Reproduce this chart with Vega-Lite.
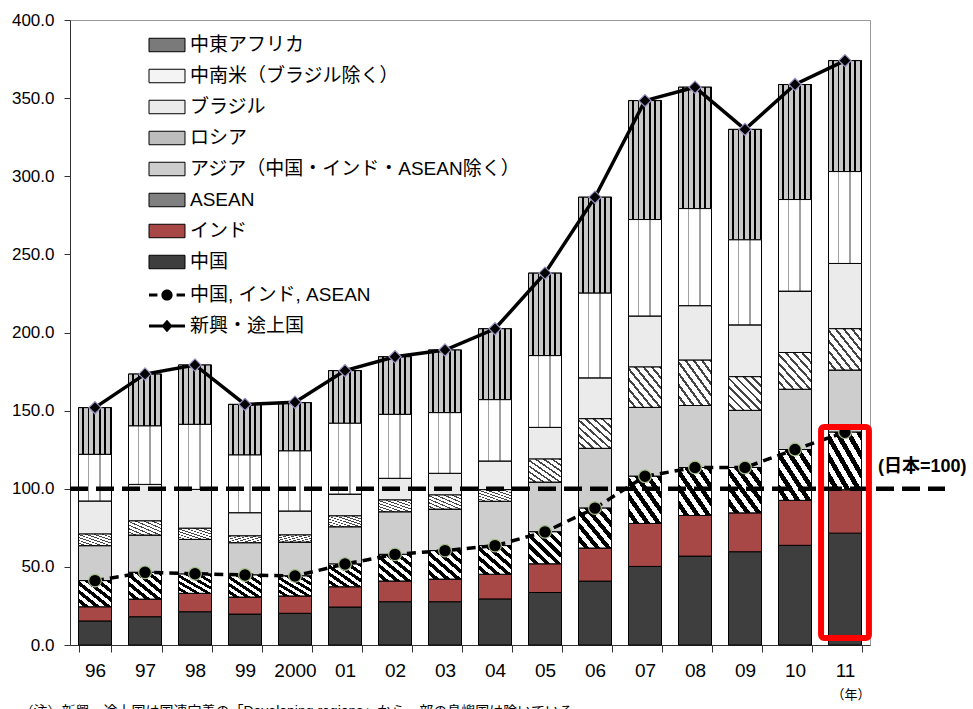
{
  "$schema": "https://vega.github.io/schema/vega-lite/v6.json",
  "width": 800,
  "height": 625,
  "autosize": "none",
  "padding": {"left": 70, "top": 20, "right": 103, "bottom": 64},
  "background": "white",
  "config": {
    "font": "Liberation Sans, Noto Sans CJK JP",
    "view": {"stroke": "#999999", "strokeWidth": 1},
    "axis": {"labelColor": "black", "labelFont": "Liberation Sans, Noto Sans CJK JP"},
    "legend": {"labelFont": "Liberation Sans, Noto Sans CJK JP", "labelColor": "black"}
  },
  "title": {
    "text": "（注）新興・途上国は国連定義の「Developing regions」から一部の島嶼国は除いている。",
    "orient": "bottom", "anchor": "start", "fontSize": 14, "fontWeight": "normal",
    "font": "Liberation Sans, Noto Sans CJK JP", "offset": 4, "dx": 8, "color": "black"
  },
  "data": {
    "values": [
      {"year": "96", "中国": 15.4, "インド": 9.1, "ASEAN": 16.7, "アジア（中国・インド・ASEAN除く）": 22.4, "ロシア": 7.4, "ブラジル": 21.2, "中南米（ブラジル除く）": 29.8, "中東アフリカ": 29.9, "中国, インド, ASEAN": 41.2, "新興・途上国": 151.9},
      {"year": "97", "中国": 18.1, "インド": 11.3, "ASEAN": 17.1, "アジア（中国・インド・ASEAN除く）": 23.9, "ロシア": 9.0, "ブラジル": 23.4, "中南米（ブラジル除く）": 37.4, "中東アフリカ": 33.2, "中国, インド, ASEAN": 46.5, "新興・途上国": 173.4},
      {"year": "98", "中国": 21.3, "インド": 11.8, "ASEAN": 12.3, "アジア（中国・インド・ASEAN除く）": 22.2, "ロシア": 7.1, "ブラジル": 24.9, "中南米（ブラジル除く）": 41.6, "中東アフリカ": 38.0, "中国, インド, ASEAN": 45.6, "新興・途上国": 179.2},
      {"year": "99", "中国": 19.8, "インド": 10.9, "ASEAN": 14.1, "アジア（中国・インド・ASEAN除く）": 20.7, "ロシア": 4.3, "ブラジル": 14.9, "中南米（ブラジル除く）": 36.9, "中東アフリカ": 32.4, "中国, インド, ASEAN": 44.8, "新興・途上国": 154.0},
      {"year": "2000", "中国": 20.3, "インド": 11.1, "ASEAN": 12.8, "アジア（中国・インド・ASEAN除く）": 21.7, "ロシア": 4.5, "ブラジル": 15.4, "中南米（ブラジル除く）": 38.4, "中東アフリカ": 30.9, "中国, インド, ASEAN": 44.2, "新興・途上国": 155.4},
      {"year": "01", "中国": 24.3, "インド": 13.0, "ASEAN": 14.5, "アジア（中国・インド・ASEAN除く）": 23.9, "ロシア": 6.9, "ブラジル": 14.0, "中南米（ブラジル除く）": 45.3, "中東アフリカ": 33.7, "中国, インド, ASEAN": 51.8, "新興・途上国": 175.6},
      {"year": "02", "中国": 27.7, "インド": 13.3, "ASEAN": 17.0, "アジア（中国・インド・ASEAN除く）": 27.3, "ロシア": 7.5, "ブラジル": 13.9, "中南米（ブラジル除く）": 40.9, "中東アフリカ": 36.9, "中国, インド, ASEAN": 58.0, "新興・途上国": 184.5},
      {"year": "03", "中国": 27.7, "インド": 14.5, "ASEAN": 18.2, "アジア（中国・インド・ASEAN除く）": 26.6, "ロシア": 9.0, "ブラジル": 13.9, "中南米（ブラジル除く）": 38.8, "中東アフリカ": 40.1, "中国, インド, ASEAN": 60.4, "新興・途上国": 188.8},
      {"year": "04", "中国": 29.5, "インド": 15.8, "ASEAN": 18.3, "アジア（中国・インド・ASEAN除く）": 28.4, "ロシア": 7.4, "ブラジル": 18.4, "中南米（ブラジル除く）": 39.2, "中東アフリカ": 45.4, "中国, インド, ASEAN": 63.6, "新興・途上国": 202.4},
      {"year": "05", "中国": 33.6, "インド": 18.4, "ASEAN": 20.4, "アジア（中国・インド・ASEAN除く）": 31.9, "ロシア": 14.7, "ブラジル": 20.3, "中南米（ブラジル除く）": 45.9, "中東アフリカ": 52.8, "中国, インド, ASEAN": 72.4, "新興・途上国": 238.0},
      {"year": "06", "中国": 40.9, "インド": 21.2, "ASEAN": 25.5, "アジア（中国・インド・ASEAN除く）": 38.3, "ロシア": 18.9, "ブラジル": 26.2, "中南米（ブラジル除く）": 54.2, "中東アフリカ": 61.4, "中国, インド, ASEAN": 87.6, "新興・途上国": 286.6},
      {"year": "07", "中国": 50.3, "インド": 27.5, "ASEAN": 30.2, "アジア（中国・インド・ASEAN除く）": 44.1, "ロシア": 25.8, "ブラジル": 32.7, "中南米（ブラジル除く）": 61.7, "中東アフリカ": 76.1, "中国, インド, ASEAN": 108.0, "新興・途上国": 348.4},
      {"year": "08", "中国": 56.9, "インド": 26.0, "ASEAN": 30.7, "アジア（中国・インド・ASEAN除く）": 39.7, "ロシア": 29.0, "ブラジル": 34.9, "中南米（ブラジル除く）": 62.1, "中東アフリカ": 77.7, "中国, インド, ASEAN": 113.6, "新興・途上国": 357.0},
      {"year": "09", "中国": 59.7, "インド": 24.9, "ASEAN": 29.0, "アジア（中国・インド・ASEAN除く）": 36.6, "ロシア": 21.5, "ブラジル": 33.2, "中南米（ブラジル除く）": 54.4, "中東アフリカ": 70.7, "中国, インド, ASEAN": 113.6, "新興・途上国": 330.0},
      {"year": "10", "中国": 63.8, "インド": 28.8, "ASEAN": 32.5, "アジア（中国・インド・ASEAN除く）": 38.6, "ロシア": 23.5, "ブラジル": 39.3, "中南米（ブラジル除く）": 58.6, "中東アフリカ": 73.6, "中国, インド, ASEAN": 125.1, "新興・途上国": 358.7},
      {"year": "11", "中国": 71.6, "インド": 27.8, "ASEAN": 36.8, "アジア（中国・インド・ASEAN除く）": 39.8, "ロシア": 26.4, "ブラジル": 41.8, "中南米（ブラジル除く）": 58.8, "中東アフリカ": 71.0, "中国, インド, ASEAN": 136.2, "新興・途上国": 374.0}
    ]
  },
  "layer": [
    {
      "transform": [
        {"fold": ["中国", "インド", "ASEAN", "アジア（中国・インド・ASEAN除く）", "ロシア", "ブラジル", "中南米（ブラジル除く）", "中東アフリカ"], "as": ["series", "v"]},
        {"calculate": "indexof(['中国','インド','ASEAN','アジア（中国・インド・ASEAN除く）','ロシア','ブラジル','中南米（ブラジル除く）','中東アフリカ'], datum.series)", "as": "ord"},
        {"stack": "v", "groupby": ["year"], "sort": [{"field": "ord", "order": "ascending"}], "as": ["y0", "y1"]}
      ],
      "encoding": {
        "x": {
          "field": "year", "type": "ordinal", "sort": null,
          "scale": {"domain": ["96", "97", "98", "99", "2000", "01", "02", "03", "04", "05", "06", "07", "08", "09", "10", "11"], "paddingInner": 0.34, "paddingOuter": 0.17},
          "axis": {"labelAngle": 0, "tickBand": "extent", "tickSize": 7, "tickColor": "#333333", "domainColor": "#333333", "labelFontSize": 19, "labelPadding": 9,
                   "title": "（年）", "titleAnchor": "end", "titleFontSize": 13, "titleFontWeight": "normal", "titlePadding": 8, "titleColor": "black"}
        },
        "y": {
          "field": "y0", "type": "quantitative",
          "scale": {"domain": [0, 400], "nice": false},
          "axis": {"values": [0, 50, 100, 150, 200, 250, 300, 350, 400], "format": ".1f", "grid": false, "title": null, "tickSize": 6, "tickColor": "#333333", "domainColor": "#333333", "labelFontSize": 17, "labelPadding": 10}
        },
        "y2": {"field": "y1"}
      },
      "layer": [
        {
          "mark": {"type": "bar", "stroke": "black", "strokeWidth": 1},
          "encoding": {
            "fill": {
              "field": "series", "type": "nominal",
              "scale": {
                "domain": ["中東アフリカ", "中南米（ブラジル除く）", "ブラジル", "ロシア", "アジア（中国・インド・ASEAN除く）", "ASEAN", "インド", "中国"],
                "range": ["#7a7a7a", "#f4f4f4", "#ebebeb", "#bdbdbd", "#cdcdcd", "#808080", "#a84846", "#3e3e3e"]
              },
              "legend": {
                "orient": "none", "legendX": 85, "legendY": 13, "title": null, "padding": 0,
                "symbolType": "M-1.6,-0.6H1.6V0.6H-1.6Z", "symbolSize": 506,
                "symbolStrokeColor": "black", "symbolStrokeWidth": 1, "symbolOpacity": 1,
                "labelFontSize": 19, "labelLimit": 600, "labelOffset": 11, "rowPadding": 9
              }
            }
          }
        },
        {
          "transform": [{"filter": "datum.series === 'ASEAN'"}],
          "mark": {"type": "bar", "stroke": "black", "strokeWidth": 1, "fill": {"gradient": "linear", "x1": 0, "y1": 1, "x2": 1, "y2": 0, "stops": [
            {"offset": 0, "color": "#ffffff"}, {"offset": 0.0833, "color": "#ffffff"}, {"offset": 0.0833, "color": "#000000"}, {"offset": 0.1667, "color": "#000000"},
            {"offset": 0.1667, "color": "#ffffff"}, {"offset": 0.25, "color": "#ffffff"}, {"offset": 0.25, "color": "#000000"}, {"offset": 0.3333, "color": "#000000"},
            {"offset": 0.3333, "color": "#ffffff"}, {"offset": 0.4167, "color": "#ffffff"}, {"offset": 0.4167, "color": "#000000"}, {"offset": 0.5, "color": "#000000"},
            {"offset": 0.5, "color": "#ffffff"}, {"offset": 0.5833, "color": "#ffffff"}, {"offset": 0.5833, "color": "#000000"}, {"offset": 0.6667, "color": "#000000"},
            {"offset": 0.6667, "color": "#ffffff"}, {"offset": 0.75, "color": "#ffffff"}, {"offset": 0.75, "color": "#000000"}, {"offset": 0.8333, "color": "#000000"},
            {"offset": 0.8333, "color": "#ffffff"}, {"offset": 0.9167, "color": "#ffffff"}, {"offset": 0.9167, "color": "#000000"}, {"offset": 1, "color": "#000000"}]}}
        },
        {
          "transform": [{"filter": "datum.series === 'ロシア'"}],
          "mark": {"type": "bar", "stroke": "black", "strokeWidth": 1, "fill": {"gradient": "linear", "x1": 0, "y1": 1, "x2": 1, "y2": 0, "stops": [
            {"offset": 0, "color": "#ffffff"}, {"offset": 0.085, "color": "#ffffff"}, {"offset": 0.085, "color": "#444444"}, {"offset": 0.125, "color": "#444444"},
            {"offset": 0.125, "color": "#ffffff"}, {"offset": 0.21, "color": "#ffffff"}, {"offset": 0.21, "color": "#444444"}, {"offset": 0.25, "color": "#444444"},
            {"offset": 0.25, "color": "#ffffff"}, {"offset": 0.335, "color": "#ffffff"}, {"offset": 0.335, "color": "#444444"}, {"offset": 0.375, "color": "#444444"},
            {"offset": 0.375, "color": "#ffffff"}, {"offset": 0.46, "color": "#ffffff"}, {"offset": 0.46, "color": "#444444"}, {"offset": 0.5, "color": "#444444"},
            {"offset": 0.5, "color": "#ffffff"}, {"offset": 0.585, "color": "#ffffff"}, {"offset": 0.585, "color": "#444444"}, {"offset": 0.625, "color": "#444444"},
            {"offset": 0.625, "color": "#ffffff"}, {"offset": 0.71, "color": "#ffffff"}, {"offset": 0.71, "color": "#444444"}, {"offset": 0.75, "color": "#444444"},
            {"offset": 0.75, "color": "#ffffff"}, {"offset": 0.835, "color": "#ffffff"}, {"offset": 0.835, "color": "#444444"}, {"offset": 0.875, "color": "#444444"},
            {"offset": 0.875, "color": "#ffffff"}, {"offset": 0.96, "color": "#ffffff"}, {"offset": 0.96, "color": "#444444"}, {"offset": 1, "color": "#444444"}]}}
        },
        {
          "transform": [{"filter": "datum.series === '中東アフリカ'"}],
          "mark": {"type": "bar", "stroke": "black", "strokeWidth": 1, "fill": {"gradient": "linear", "x1": 0, "y1": 0, "x2": 1, "y2": 0, "stops": [
            {"offset": 0, "color": "#c8c8c8"}, {"offset": 0.11, "color": "#c8c8c8"}, {"offset": 0.11, "color": "#000000"}, {"offset": 0.1667, "color": "#000000"},
            {"offset": 0.1667, "color": "#c8c8c8"}, {"offset": 0.2767, "color": "#c8c8c8"}, {"offset": 0.2767, "color": "#000000"}, {"offset": 0.3333, "color": "#000000"},
            {"offset": 0.3333, "color": "#c8c8c8"}, {"offset": 0.4433, "color": "#c8c8c8"}, {"offset": 0.4433, "color": "#000000"}, {"offset": 0.5, "color": "#000000"},
            {"offset": 0.5, "color": "#c8c8c8"}, {"offset": 0.61, "color": "#c8c8c8"}, {"offset": 0.61, "color": "#000000"}, {"offset": 0.6667, "color": "#000000"},
            {"offset": 0.6667, "color": "#c8c8c8"}, {"offset": 0.7767, "color": "#c8c8c8"}, {"offset": 0.7767, "color": "#000000"}, {"offset": 0.8333, "color": "#000000"},
            {"offset": 0.8333, "color": "#c8c8c8"}, {"offset": 0.9433, "color": "#c8c8c8"}, {"offset": 0.9433, "color": "#000000"}, {"offset": 1, "color": "#000000"}]}}
        },
        {
          "transform": [{"filter": "datum.series === '中南米（ブラジル除く）'"}],
          "mark": {"type": "bar", "stroke": "black", "strokeWidth": 1, "fill": {"gradient": "linear", "x1": 0, "y1": 0, "x2": 1, "y2": 0, "stops": [
            {"offset": 0, "color": "#ffffff"}, {"offset": 0.3, "color": "#ffffff"}, {"offset": 0.3, "color": "#a0a0a0"}, {"offset": 0.333, "color": "#a0a0a0"},
            {"offset": 0.333, "color": "#ffffff"}, {"offset": 0.633, "color": "#ffffff"}, {"offset": 0.633, "color": "#a0a0a0"}, {"offset": 0.667, "color": "#a0a0a0"},
            {"offset": 0.667, "color": "#ffffff"}, {"offset": 1, "color": "#ffffff"}]}}
        }
      ]
    },
    {
      "data": {"values": [{}]},
      "mark": {"type": "rule", "strokeDash": [18, 8], "strokeWidth": 4.5, "color": "black", "xOffset": -25, "x2Offset": 100},
      "encoding": {
        "x": {"datum": "96", "type": "ordinal"},
        "x2": {"datum": "11"},
        "y": {"datum": 100, "type": "quantitative"}
      }
    },
    {
      "data": {"values": [{}]},
      "mark": {"type": "text", "align": "left", "baseline": "middle", "dx": 33, "dy": -22, "fontSize": 18, "fontWeight": "bold", "color": "black"},
      "encoding": {
        "x": {"datum": "11", "type": "ordinal"},
        "y": {"datum": 100, "type": "quantitative"},
        "text": {"value": "(日本=100)"}
      }
    },
    {
      "transform": [{"fold": ["中国, インド, ASEAN"], "as": ["line_series", "v"]}],
      "mark": {"type": "line", "strokeWidth": 3.5, "color": "black", "strokeDash": [9, 6]},
      "encoding": {
        "x": {"field": "year", "type": "ordinal", "sort": null},
        "y": {"field": "v", "type": "quantitative"}
      }
    },
    {
      "transform": [{"fold": ["新興・途上国"], "as": ["line_series", "v"]}],
      "mark": {"type": "line", "strokeWidth": 3.5, "color": "black"},
      "encoding": {
        "x": {"field": "year", "type": "ordinal", "sort": null},
        "y": {"field": "v", "type": "quantitative"}
      }
    },
    {
      "transform": [{"fold": ["中国, インド, ASEAN", "新興・途上国"], "as": ["line_series", "v"]}],
      "mark": {"type": "point", "filled": true, "fill": "black", "stroke": "black", "opacity": 0},
      "encoding": {
        "x": {"field": "year", "type": "ordinal", "sort": null},
        "y": {"field": "v", "type": "quantitative"},
        "shape": {
          "field": "line_series", "type": "nominal",
          "scale": {"domain": ["中国, インド, ASEAN", "新興・途上国"], "range": ["M-1.6,-0.13H-0.85V0.13H-1.6Z M0.85,-0.13H1.6V0.13H0.85Z M0.5,0A0.5,0.5 0 1,1 -0.5,0A0.5,0.5 0 1,1 0.5,0Z", "M-1.6,-0.13H1.6V0.13H-1.6Z M0,-0.55L0.5,0L0,0.55L-0.5,0Z"]},
          "legend": {
            "orient": "none", "legendX": 85, "legendY": 263, "title": null, "padding": 0,
            "symbolSize": 506, "symbolOpacity": 1, "symbolStrokeColor": "black", "symbolFillColor": "black", "symbolStrokeWidth": 1,
            "labelFontSize": 19, "labelLimit": 600, "labelOffset": 11, "rowPadding": 9
          }
        }
      }
    },
    {
      "transform": [{"fold": ["中国, インド, ASEAN"], "as": ["line_series", "v"]}],
      "mark": {"type": "point", "shape": "circle", "filled": true, "fill": "black", "stroke": "#a9c08a", "fillOpacity": 1, "opacity": 1, "size": 160, "strokeWidth": 1.2},
      "encoding": {
        "x": {"field": "year", "type": "ordinal", "sort": null},
        "y": {"field": "v", "type": "quantitative"}
      }
    },
    {
      "transform": [{"fold": ["新興・途上国"], "as": ["line_series", "v"]}],
      "mark": {"type": "point", "shape": "diamond", "filled": true, "fill": "black", "stroke": "#9c8fc4", "fillOpacity": 1, "opacity": 1, "size": 150, "strokeWidth": 1.2},
      "encoding": {
        "x": {"field": "year", "type": "ordinal", "sort": null},
        "y": {"field": "v", "type": "quantitative"}
      }
    },
    {
      "data": {"values": [{}]},
      "mark": {"type": "bar", "fill": "transparent", "stroke": "#ff0000", "strokeWidth": 6, "cornerRadius": 3, "width": {"band": 1.45}},
      "encoding": {
        "x": {"datum": "11", "type": "ordinal"},
        "y": {"datum": 4.5, "type": "quantitative"},
        "y2": {"datum": 139.5}
      }
    }
  ]
}
